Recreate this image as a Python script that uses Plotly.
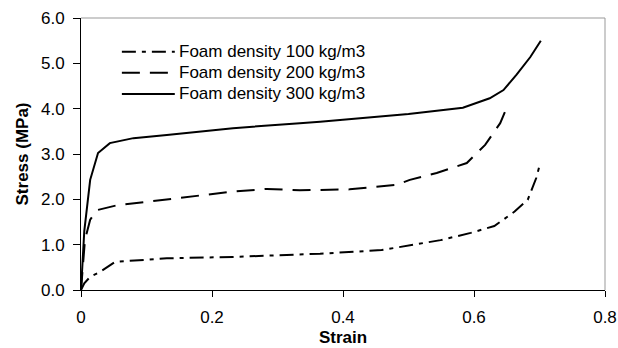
import plotly.graph_objects as go

# Stress-strain curves for three foam densities
strain_100 = [0, 0.005, 0.014, 0.029, 0.052, 0.09, 0.131, 0.232, 0.334, 0.365, 0.459, 0.549, 0.595, 0.631, 0.662, 0.682, 0.695, 0.700]
stress_100 = [0, 0.15, 0.29, 0.40, 0.62, 0.66, 0.70, 0.73, 0.79, 0.80, 0.88, 1.10, 1.26, 1.41, 1.73, 1.99, 2.47, 2.74]

strain_200 = [0, 0.006, 0.014, 0.024, 0.055, 0.131, 0.232, 0.284, 0.334, 0.41, 0.482, 0.502, 0.543, 0.589, 0.617, 0.64, 0.65]
stress_200 = [0, 1.10, 1.55, 1.76, 1.87, 2.00, 2.17, 2.23, 2.20, 2.22, 2.32, 2.43, 2.58, 2.80, 3.20, 3.68, 4.02]

strain_300 = [0, 0.005, 0.014, 0.026, 0.044, 0.08, 0.131, 0.232, 0.334, 0.365, 0.5, 0.583, 0.624, 0.645, 0.665, 0.686, 0.702]
stress_300 = [0, 1.30, 2.43, 3.02, 3.24, 3.35, 3.42, 3.57, 3.68, 3.71, 3.88, 4.02, 4.23, 4.41, 4.75, 5.14, 5.50]

series_names = ["Foam density 100 kg/m3", "Foam density 200 kg/m3", "Foam density 300 kg/m3"]
x_ticks = [0, 0.2, 0.4, 0.6, 0.8]
x_tick_labels = ["0", "0.2", "0.4", "0.6", "0.8"]

FONT = "Liberation Sans, Arial, sans-serif"
DASHES = ["14px,6px,4px,6px", "18px,10px", "solid"]

fig = go.Figure()
for sx, sy, name, dash in zip([strain_100, strain_200, strain_300],
                              [stress_100, stress_200, stress_300],
                              series_names, DASHES):
    fig.add_trace(go.Scatter(x=sx, y=sy, mode="lines", name=name, showlegend=False,
                             line=dict(color="black", width=2, dash=dash)))

# Legend drawn as sample strokes plus labels inside the plot area
legend_rows = [0.876, 0.799, 0.721]
shapes = []
annotations = []
for row_y, name, dash in zip(legend_rows, series_names, DASHES):
    shapes.append(dict(type="line", xref="paper", yref="paper",
                       x0=0.078, x1=0.179, y0=row_y, y1=row_y,
                       line=dict(color="black", width=2, dash=dash)))
    annotations.append(dict(xref="paper", yref="paper", x=0.183, y=row_y,
                            xanchor="left", yanchor="middle", showarrow=False,
                            text=name, font=dict(size=17, family=FONT, color="black")))

# Light frame on the top and right sides
shapes += [
    dict(type="line", xref="paper", yref="paper", x0=0, x1=1, y0=1, y1=1,
         line=dict(color="#999999", width=1)),
    dict(type="line", xref="paper", yref="paper", x0=1, x1=1, y0=0, y1=1,
         line=dict(color="#999999", width=1)),
]

fig.update_layout(
    width=618, height=348,
    margin=dict(l=81, r=13, t=18, b=58),
    paper_bgcolor="white", plot_bgcolor="white",
    font=dict(family=FONT, color="black", size=17),
    showlegend=False,
    xaxis=dict(range=[0, 0.8], tickvals=x_ticks, ticktext=x_tick_labels,
               showline=True, linecolor="black", linewidth=1,
               ticks="outside", ticklen=6, tickcolor="black",
               ticklabelstandoff=6, automargin=False,
               showgrid=False, zeroline=False,
               tickfont=dict(size=17),
               title=dict(text="<b>Strain</b>", font=dict(size=17), standoff=4)),
    yaxis=dict(range=[0, 6], dtick=1, tickformat=".1f",
               showline=True, linecolor="black", linewidth=1,
               ticks="outside", ticklen=7, tickcolor="black",
               ticklabelstandoff=5, automargin=False,
               showgrid=False, zeroline=False,
               tickfont=dict(size=17),
               title=dict(text="<b>Stress (MPa)</b>", font=dict(size=17), standoff=8)),
    shapes=shapes,
    annotations=annotations,
)

fig.write_html("out.html")
